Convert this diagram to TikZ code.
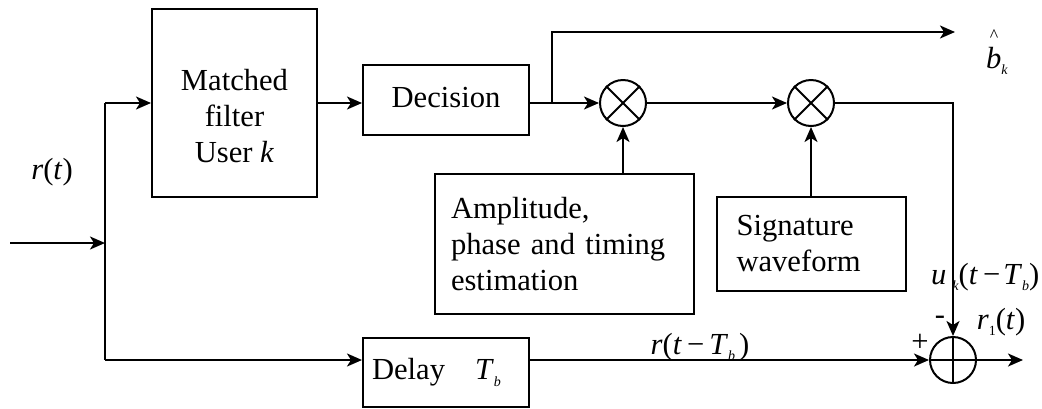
\documentclass[tikz,border=0pt]{standalone}
\usepackage{fontspec}
\setmainfont{Liberation Serif}
\usetikzlibrary{arrows.meta}
\newcommand\vi[1]{\textit{#1}}
\newcommand\sbs[1]{\raisebox{-0.45ex}{\fontsize{7}{8}\selectfont #1}}
\newcommand\lowr[2]{\raisebox{#1}[\height][\depth]{#2}}
\begin{document}
\begin{tikzpicture}[x=0.5pt,y=-0.5pt,
  font=\rmfamily\fontsize{15.3}{18}\selectfont,
  line width=1pt,
  >={Stealth[length=7.5pt,width=6.5pt,inset=2pt]},
  blk/.style={draw,line width=1pt,inner sep=0pt},
  mul/.style={draw,circle,line width=1pt,minimum size=23pt,inner sep=0pt},
  lbl/.style={inner sep=0pt}]
\path[use as bounding box] (0,0) rectangle (1042,408);

% blocks
\node[blk,minimum width=82.5pt,minimum height=94pt,align=center] (mf) at (234.5,103)
  {\lowr{-8pt}{\begin{tabular}{@{}c@{}}Matched\\filter\\User \vi{k}\end{tabular}}};
\node[blk,minimum width=83pt,minimum height=35pt] (dec) at (446,100) {\lowr{1pt}{Decision}};
\node[blk,minimum width=129.5pt,minimum height=70pt,text width=113.5pt,align=left,inner xsep=8pt] (amp) at (564.5,244)
  {Amplitude,\\phase and timing\\estimation};
\node[blk,minimum width=94.5pt,minimum height=47pt,text width=75pt,align=left,inner xsep=9.75pt] (sig) at (811.5,244)
  {Signature\\waveform};
\node[blk,minimum width=83pt,minimum height=34.5pt,text width=74pt,align=left,inner xsep=4.5pt] (del) at (446,372.5)
  {Delay\hspace{15pt}\vi{T}\sbs{\vi{b}}};

% multipliers and summer
\node[mul] (m1) at (623,103) {};
\node[mul] (m2) at (811,103) {};
\node[mul] (sum) at (953,360) {};
\draw (m1.north west) -- (m1.south east) (m1.north east) -- (m1.south west);
\draw (m2.north west) -- (m2.south east) (m2.north east) -- (m2.south west);
\draw (sum.north) -- (sum.south) (sum.west) -- (sum.east);

% coordinates
\coordinate (in) at (10,243);
\coordinate (j1) at (105,243);
\coordinate (jt) at (105,103);
\coordinate (jb) at (105,360);
\coordinate (br) at (552,103);
\coordinate (bt) at (552,32);
\coordinate (bend) at (955,32);
\coordinate (rc) at (953,103);
\coordinate (out) at (1023,360);

% connectors
\draw[->] (in) -- (j1);
\draw (jt) -- (jb);
\draw[->] (jt) -- (mf.west);
\draw[->] (jb) -- (del.west |- jb);
\draw[->] (mf.east) -- (dec.west |- mf.east);
\draw (dec.east |- br) -- (br);
\draw[->] (br) -- (m1.west);
\draw[->] (br) -- (bt) -- (bend);
\draw[->] (m1.east) -- (m2.west);
\draw[->] (m2.east) -- (rc) -- (sum.north);
\draw[->] (m1 |- amp.north) -- (m1.south);
\draw[->] (m2 |- sig.north) -- (m2.south);
\draw[->] (del.east |- sum) -- (sum.west);
\draw[->] (sum.east) -- (out);

% labels
\node[lbl] (lr) at (52,172) {\vi{r}(\vi{t})};
\node[lbl] (lb) at (997,52) {\rlap{\raisebox{1.9ex}{\hspace{0.12em}\fontsize{9}{9}\selectfont\^{}}}\vi{b}\sbs{\vi{k}}};
\node[lbl] (lrd) at (700,347) {\vi{r}(\vi{t}\hspace{2.5pt}−\hspace{2.5pt}\vi{T}\sbs{\vi{b}}\hspace{2pt})};
\node[lbl] (lr1) at (1001,322) {\vi{r}\sbs{1}(\vi{t})};
\node[lbl] (lminus) at (940,320) {-};
\node[lbl] (lplus) at (920,343) {+};
\node[lbl,anchor=west] (lu) at (930,277) {\vi{u}\hspace{3pt}\sbs{\vi{k}}(\vi{t}\,−\hspace{1.5pt}\vi{T}\sbs{\vi{b}})};
\end{tikzpicture}
\end{document}
